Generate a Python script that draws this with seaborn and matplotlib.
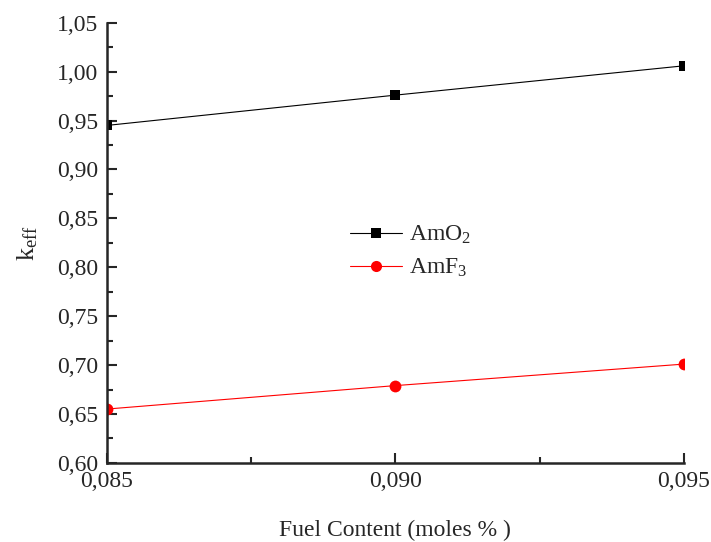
import numpy as np
import pandas as pd
import matplotlib
matplotlib.use("Agg")
import matplotlib.pyplot as plt
import seaborn as sns
from matplotlib.ticker import MultipleLocator, FuncFormatter

fuel = [0.085, 0.090, 0.095]
amo2 = [0.945, 0.976, 1.006]
amf3 = [0.655, 0.679, 0.701]

df = pd.DataFrame({"fuel": fuel * 2,
                   "keff": amo2 + amf3,
                   "mat": ["AmO$_2$"] * 3 + ["AmF$_3$"] * 3})

sns.set_style("ticks")
plt.rcParams["font.family"] = ["Liberation Serif", "DejaVu Serif"]
plt.rcParams["mathtext.fontset"] = "custom"
plt.rcParams["mathtext.rm"] = "Liberation Serif"
plt.rcParams["mathtext.it"] = "Liberation Serif"

fig = plt.figure(figsize=(7.11, 5.42), dpi=100)
ax = fig.add_axes([0.150, 0.146, 0.812, 0.812])

sns.lineplot(data=df, x="fuel", y="keff", hue="mat", style="mat",
             palette={"AmO$_2$": "black", "AmF$_3$": "red"},
             markers={"AmO$_2$": "s", "AmF$_3$": "o"}, dashes=False,
             markeredgewidth=0, linewidth=0.8, ax=ax)
# marker sizes per series
for line in ax.lines:
    if line.get_marker() == "s":
        line.set_markersize(7)
    else:
        line.set_markersize(8.5)

ax.set_xlim(0.085, 0.095)
ax.set_ylim(0.60, 1.05)
ax.xaxis.set_major_locator(MultipleLocator(0.005))
ax.xaxis.set_minor_locator(MultipleLocator(0.0025))
ax.yaxis.set_major_locator(MultipleLocator(0.05))
ax.yaxis.set_minor_locator(MultipleLocator(0.025))
ax.xaxis.set_major_formatter(FuncFormatter(lambda v, p: f"{v:.3f}".replace(".", ",")))
ax.yaxis.set_major_formatter(FuncFormatter(lambda v, p: f"{v:.2f}".replace(".", ",")))
ax.tick_params(which="major", direction="in", length=7, width=1.5, labelsize=17, pad=6)
ax.tick_params(which="minor", direction="in", length=4, width=1.5)

for s in ["top", "right"]:
    ax.spines[s].set_visible(False)
for s in ["left", "bottom"]:
    ax.spines[s].set_linewidth(1.8)

ax.set_xlabel("Fuel Content (moles % )", fontsize=17, labelpad=20)
ax.set_ylabel("k$_{\\mathrm{eff}}$", fontsize=19, labelpad=12)

leg = ax.legend(title=None, loc="center left", bbox_to_anchor=(0.385, 0.48),
                frameon=False, fontsize=17, handlelength=2.2, labelspacing=0.45,
                handletextpad=0.3)
for h in leg.legend_handles:
    h.set_markersize(8 if h.get_marker() == "o" else 6.5)

fig.savefig("out.png", dpi=100)
